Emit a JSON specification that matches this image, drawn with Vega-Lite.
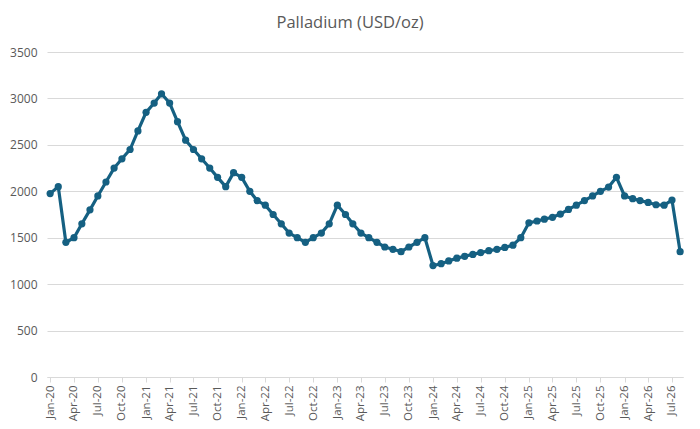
{
  "$schema": "https://vega.github.io/schema/vega-lite/v6.json",
  "autosize": "none",
  "width": 636,
  "height": 325,
  "padding": {"left": 47, "top": 52, "right": 17, "bottom": 52},
  "background": "white",
  "title": {
    "text": "Palladium (USD/oz)",
    "fontSize": 16.5,
    "font": "Open Sans",
    "fontWeight": "normal",
    "color": "#595959",
    "anchor": "middle",
    "dx": -15,
    "offset": 15
  },
  "data": {
    "values": [
      {"month": "2020-01-01", "price": 1975},
      {"month": "2020-02-01", "price": 2050},
      {"month": "2020-03-01", "price": 1450},
      {"month": "2020-04-01", "price": 1500},
      {"month": "2020-05-01", "price": 1650},
      {"month": "2020-06-01", "price": 1800},
      {"month": "2020-07-01", "price": 1950},
      {"month": "2020-08-01", "price": 2100},
      {"month": "2020-09-01", "price": 2250},
      {"month": "2020-10-01", "price": 2350},
      {"month": "2020-11-01", "price": 2450},
      {"month": "2020-12-01", "price": 2650},
      {"month": "2021-01-01", "price": 2850},
      {"month": "2021-02-01", "price": 2950},
      {"month": "2021-03-01", "price": 3050},
      {"month": "2021-04-01", "price": 2950},
      {"month": "2021-05-01", "price": 2750},
      {"month": "2021-06-01", "price": 2550},
      {"month": "2021-07-01", "price": 2450},
      {"month": "2021-08-01", "price": 2350},
      {"month": "2021-09-01", "price": 2250},
      {"month": "2021-10-01", "price": 2150},
      {"month": "2021-11-01", "price": 2050},
      {"month": "2021-12-01", "price": 2200},
      {"month": "2022-01-01", "price": 2150},
      {"month": "2022-02-01", "price": 2000},
      {"month": "2022-03-01", "price": 1900},
      {"month": "2022-04-01", "price": 1850},
      {"month": "2022-05-01", "price": 1750},
      {"month": "2022-06-01", "price": 1650},
      {"month": "2022-07-01", "price": 1550},
      {"month": "2022-08-01", "price": 1500},
      {"month": "2022-09-01", "price": 1450},
      {"month": "2022-10-01", "price": 1500},
      {"month": "2022-11-01", "price": 1550},
      {"month": "2022-12-01", "price": 1650},
      {"month": "2023-01-01", "price": 1850},
      {"month": "2023-02-01", "price": 1750},
      {"month": "2023-03-01", "price": 1650},
      {"month": "2023-04-01", "price": 1550},
      {"month": "2023-05-01", "price": 1500},
      {"month": "2023-06-01", "price": 1450},
      {"month": "2023-07-01", "price": 1400},
      {"month": "2023-08-01", "price": 1375},
      {"month": "2023-09-01", "price": 1350},
      {"month": "2023-10-01", "price": 1400},
      {"month": "2023-11-01", "price": 1450},
      {"month": "2023-12-01", "price": 1500},
      {"month": "2024-01-01", "price": 1200},
      {"month": "2024-02-01", "price": 1220},
      {"month": "2024-03-01", "price": 1250},
      {"month": "2024-04-01", "price": 1280},
      {"month": "2024-05-01", "price": 1300},
      {"month": "2024-06-01", "price": 1320},
      {"month": "2024-07-01", "price": 1340},
      {"month": "2024-08-01", "price": 1360},
      {"month": "2024-09-01", "price": 1375},
      {"month": "2024-10-01", "price": 1395},
      {"month": "2024-11-01", "price": 1420},
      {"month": "2024-12-01", "price": 1500},
      {"month": "2025-01-01", "price": 1660},
      {"month": "2025-02-01", "price": 1680},
      {"month": "2025-03-01", "price": 1700},
      {"month": "2025-04-01", "price": 1720},
      {"month": "2025-05-01", "price": 1755},
      {"month": "2025-06-01", "price": 1805},
      {"month": "2025-07-01", "price": 1850},
      {"month": "2025-08-01", "price": 1900},
      {"month": "2025-09-01", "price": 1950},
      {"month": "2025-10-01", "price": 2000},
      {"month": "2025-11-01", "price": 2045},
      {"month": "2025-12-01", "price": 2150},
      {"month": "2026-01-01", "price": 1950},
      {"month": "2026-02-01", "price": 1920},
      {"month": "2026-03-01", "price": 1900},
      {"month": "2026-04-01", "price": 1880},
      {"month": "2026-05-01", "price": 1855},
      {"month": "2026-06-01", "price": 1850},
      {"month": "2026-07-01", "price": 1905},
      {"month": "2026-08-01", "price": 1350}
    ]
  },
  "mark": {
    "type": "line",
    "color": "#156082",
    "strokeWidth": 3.2,
    "point": {"filled": true, "size": 52, "color": "#156082"}
  },
  "encoding": {
    "x": {
      "field": "month",
      "type": "temporal",
      "timeUnit": "utcyearmonth",
      "scale": {
        "domain": [
          {"year": 2019, "month": 12, "date": 20, "utc": true},
          {"year": 2026, "month": 8, "date": 12, "utc": true}
        ]
      },
      "axis": {
        "title": null,
        "labelExpr": "utcFormat(datum.value, '%b-%y')",
        "values": [
          {"year": 2020, "month": 1, "date": 1, "utc": true},
          {"year": 2020, "month": 4, "date": 1, "utc": true},
          {"year": 2020, "month": 7, "date": 1, "utc": true},
          {"year": 2020, "month": 10, "date": 1, "utc": true},
          {"year": 2021, "month": 1, "date": 1, "utc": true},
          {"year": 2021, "month": 4, "date": 1, "utc": true},
          {"year": 2021, "month": 7, "date": 1, "utc": true},
          {"year": 2021, "month": 10, "date": 1, "utc": true},
          {"year": 2022, "month": 1, "date": 1, "utc": true},
          {"year": 2022, "month": 4, "date": 1, "utc": true},
          {"year": 2022, "month": 7, "date": 1, "utc": true},
          {"year": 2022, "month": 10, "date": 1, "utc": true},
          {"year": 2023, "month": 1, "date": 1, "utc": true},
          {"year": 2023, "month": 4, "date": 1, "utc": true},
          {"year": 2023, "month": 7, "date": 1, "utc": true},
          {"year": 2023, "month": 10, "date": 1, "utc": true},
          {"year": 2024, "month": 1, "date": 1, "utc": true},
          {"year": 2024, "month": 4, "date": 1, "utc": true},
          {"year": 2024, "month": 7, "date": 1, "utc": true},
          {"year": 2024, "month": 10, "date": 1, "utc": true},
          {"year": 2025, "month": 1, "date": 1, "utc": true},
          {"year": 2025, "month": 4, "date": 1, "utc": true},
          {"year": 2025, "month": 7, "date": 1, "utc": true},
          {"year": 2025, "month": 10, "date": 1, "utc": true},
          {"year": 2026, "month": 1, "date": 1, "utc": true},
          {"year": 2026, "month": 4, "date": 1, "utc": true},
          {"year": 2026, "month": 7, "date": 1, "utc": true}
        ],
        "labelAngle": 270,
        "labelAlign": "right",
        "labelBaseline": "middle",
        "labelFont": "Open Sans",
        "labelFontSize": 11.5,
        "labelColor": "#595959",
        "labelPadding": 3,
        "grid": false,
        "domainColor": "#d9d9d9",
        "tickColor": "#d9d9d9",
        "tickSize": 5,
        "labelFlush": false,
        "labelOverlap": false
      }
    },
    "y": {
      "field": "price",
      "type": "quantitative",
      "scale": {"domain": [0, 3500]},
      "axis": {
        "title": null,
        "format": "d",
        "values": [0, 500, 1000, 1500, 2000, 2500, 3000, 3500],
        "domain": false,
        "ticks": false,
        "grid": true,
        "gridColor": "#d9d9d9",
        "gridWidth": 1,
        "labelFont": "Open Sans",
        "labelFontSize": 12,
        "labelColor": "#595959",
        "labelPadding": 10
      }
    }
  },
  "config": {
    "view": {"stroke": null}
  }
}
